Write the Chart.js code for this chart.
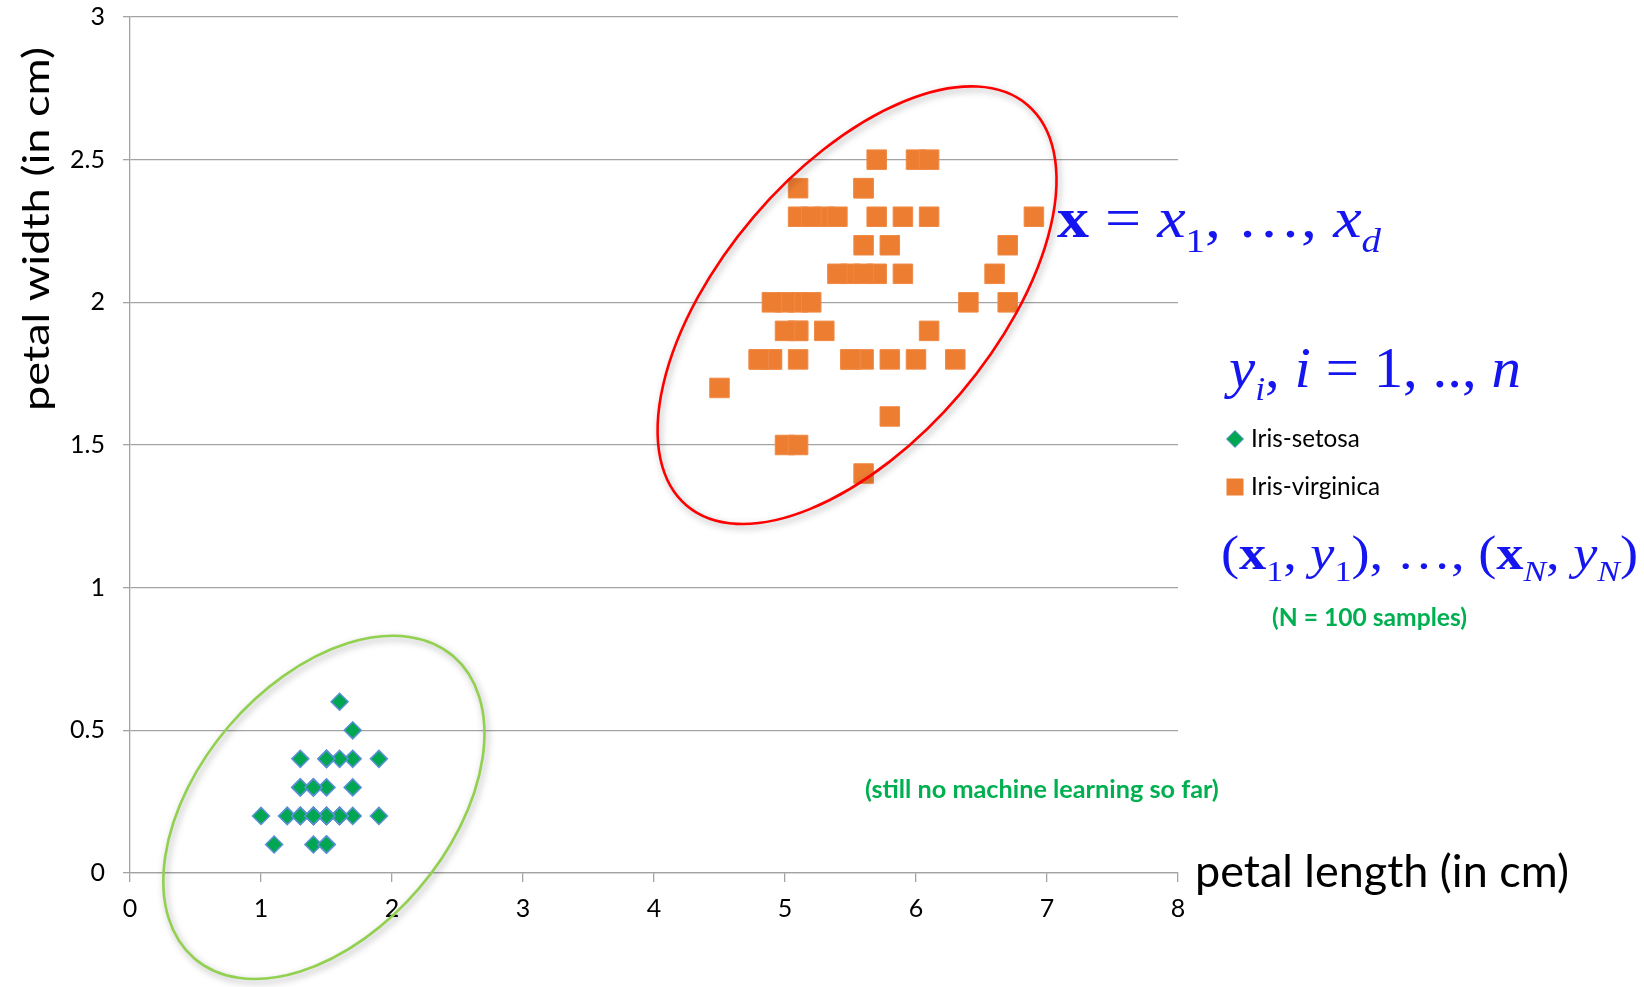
<!DOCTYPE html>
<html>
<head>
<meta charset="utf-8">
<script src="https://cdn.jsdelivr.net/npm/chart.js@4.4.1/dist/chart.umd.min.js"></script>
<style>
  html, body { margin: 0; padding: 0; background: #fff; }
</style>
</head>
<body>
<canvas id="irisChart" width="1644" height="987"></canvas>
<script>
// petal length / petal width (cm)
const setosaLength = [1.4, 1.4, 1.3, 1.5, 1.4, 1.7, 1.4, 1.5, 1.4, 1.5, 1.5, 1.6, 1.4, 1.1, 1.2, 1.5, 1.3, 1.4, 1.7, 1.5,
                      1.7, 1.5, 1.0, 1.7, 1.9, 1.6, 1.6, 1.5, 1.4, 1.6, 1.6, 1.5, 1.5, 1.4, 1.5, 1.2, 1.3, 1.5, 1.3, 1.5,
                      1.3, 1.3, 1.3, 1.6, 1.9, 1.4, 1.6, 1.4, 1.5, 1.4];
const setosaWidth = [0.2, 0.2, 0.2, 0.2, 0.2, 0.4, 0.3, 0.2, 0.2, 0.1, 0.2, 0.2, 0.1, 0.1, 0.2, 0.4, 0.4, 0.3, 0.3, 0.3,
                     0.2, 0.4, 0.2, 0.5, 0.2, 0.2, 0.4, 0.2, 0.2, 0.2, 0.2, 0.4, 0.1, 0.2, 0.1, 0.2, 0.2, 0.1, 0.2, 0.2,
                     0.3, 0.3, 0.2, 0.6, 0.4, 0.3, 0.2, 0.2, 0.2, 0.2];
const virginicaLength = [6.0, 5.1, 5.9, 5.6, 5.8, 6.6, 4.5, 6.3, 5.8, 6.1, 5.1, 5.3, 5.5, 5.0, 5.1, 5.3, 5.5, 6.7, 6.9, 5.0,
                         5.7, 4.9, 6.7, 4.9, 5.7, 6.0, 4.8, 4.9, 5.6, 5.8, 6.1, 6.4, 5.6, 5.1, 5.6, 6.1, 5.6, 5.5, 4.8, 5.4,
                         5.6, 5.1, 5.1, 5.9, 5.7, 5.2, 5.0, 5.2, 5.4, 5.1];
const virginicaWidth = [2.5, 1.9, 2.1, 1.8, 2.2, 2.1, 1.7, 1.8, 1.8, 2.5, 2.0, 1.9, 2.1, 2.0, 2.4, 2.3, 1.8, 2.2, 2.3, 1.5,
                        2.3, 2.0, 2.0, 1.8, 2.1, 1.8, 1.8, 1.8, 2.1, 1.6, 1.9, 2.0, 2.2, 1.5, 1.4, 2.3, 2.4, 1.8, 1.8, 2.1,
                        2.4, 2.3, 1.9, 2.3, 2.5, 2.3, 1.9, 2.0, 2.3, 1.8];
const xTickLabels = ['0', '1', '2', '3', '4', '5', '6', '7', '8'];
const yTickLabels = ['0', '0.5', '1', '1.5', '2', '2.5', '3'];
const seriesNames = ['Iris-setosa', 'Iris-virginica'];

const gridGray = '#A3A3A3';
const noteGreen = '#00B050';
const mathBlue = '#1515F0';
const sans = 'Lato, "Open Sans", sans-serif';
const serif = '"Liberation Serif", "DejaVu Serif", serif';

function toPoints(xs, ys) {
    return xs.map((x, i) => ({ x: x, y: ys[i] }));
}

// font size so that text fills a given width
function fitSize(ctx, text, weight, family, width) {
    ctx.font = weight + ' 100px ' + family;
    return 100 * width / ctx.measureText(text).width;
}

// formula pieces laid out one after the other, squeezed to span x0..x1
function drawRuns(ctx, runs, x0, x1, baseline) {
    let total = 0;
    runs.forEach(r => {
        ctx.font = r.font;
        r.w = ctx.measureText(r.text).width;
        total += r.w;
    });
    ctx.save();
    ctx.translate(x0, baseline);
    ctx.scale((x1 - x0) / total, 1);
    let x = 0;
    runs.forEach(r => {
        ctx.font = r.font;
        ctx.fillText(r.text, x, r.dy || 0);
        x += r.w;
    });
    ctx.restore();
}

// ellipses drawn round the two clusters
const clusterRings = {
    id: 'clusterRings',
    afterDatasetsDraw(chart) {
        const { ctx, scales } = chart;
        const rings = [
            { cx: 5.55, cy: 1.99, rx: 263, ry: 136, angle: -49.6, color: '#FF0000' },
            { cx: 1.48, cy: 0.23, rx: 199, ry: 125, angle: -49.4, color: '#92D050' }
        ];
        rings.forEach(r => {
            ctx.save();
            ctx.shadowColor = 'rgba(0, 0, 0, 0.35)';
            ctx.shadowBlur = 7;
            ctx.shadowOffsetX = 2;
            ctx.shadowOffsetY = 3;
            ctx.beginPath();
            ctx.ellipse(scales.x.getPixelForValue(r.cx), scales.y.getPixelForValue(r.cy),
                        r.rx, r.ry, r.angle * Math.PI / 180, 0, 2 * Math.PI);
            ctx.strokeStyle = r.color;
            ctx.lineWidth = 2.6;
            ctx.stroke();
            ctx.restore();
        });
    }
};

// axis titles, legend and the text notes on the right
const sideNotes = {
    id: 'sideNotes',
    afterDraw(chart) {
        const ctx = chart.ctx;
        const sets = chart.data.datasets;
        ctx.save();
        ctx.fillStyle = '#000';
        ctx.textBaseline = 'alphabetic';

        // x title, to the right of the axis end
        let size = fitSize(ctx, 'petal length (in cm)', '', sans, 374);
        ctx.font = size + 'px ' + sans;
        ctx.textAlign = 'left';
        ctx.fillText('petal length (in cm)', 1195, 887);

        // y title, rotated and stretched along the axis
        ctx.save();
        ctx.font = '36px ' + sans;
        const natural = ctx.measureText('petal width (in cm)').width;
        ctx.translate(49, 229);
        ctx.rotate(-Math.PI / 2);
        ctx.scale(364 / natural, 1);
        ctx.textAlign = 'center';
        ctx.fillText('petal width (in cm)', 0, 0);
        ctx.restore();

        // legend
        size = fitSize(ctx, sets[0].label, '', sans, 109);
        ctx.font = size + 'px ' + sans;
        ctx.textAlign = 'left';
        const legendRows = [447, 495];
        sets.forEach((ds, i) => {
            const cy = legendRows[i] - 8;
            ctx.fillStyle = ds.backgroundColor;
            ctx.strokeStyle = ds.borderColor;
            ctx.lineWidth = 1;
            ctx.beginPath();
            if (ds.pointStyle === 'rectRot') {
                ctx.moveTo(1235, cy - 8.5);
                ctx.lineTo(1243.5, cy);
                ctx.lineTo(1235, cy + 8.5);
                ctx.lineTo(1226.5, cy);
                ctx.closePath();
                ctx.fill();
                ctx.stroke();
            } else {
                ctx.rect(1226.5, cy - 8.5, 17, 17);
                ctx.fill();
            }
            ctx.fillStyle = '#000';
            ctx.fillText(ds.label, 1251, legendRows[i]);
        });

        // green remarks
        ctx.fillStyle = noteGreen;
        ctx.textBaseline = 'middle';
        size = fitSize(ctx, '(N = 100 samples)', 'bold', sans, 195);
        ctx.font = 'bold ' + size + 'px ' + sans;
        ctx.fillText('(N = 100 samples)', 1272, 618);
        size = fitSize(ctx, '(still no machine learning so far)', 'bold', sans, 354);
        ctx.font = 'bold ' + size + 'px ' + sans;
        ctx.fillText('(still no machine learning so far)', 865, 790);

        // formulas
        ctx.fillStyle = mathBlue;
        ctx.textBaseline = 'alphabetic';
        const it = 'italic 56px ' + serif;
        const rm = '56px ' + serif;
        const bf = 'bold 56px ' + serif;
        const sub = '34px ' + serif;
        const subIt = 'italic 34px ' + serif;
        drawRuns(ctx, [
            { text: 'x', font: bf },
            { text: ' = ', font: rm },
            { text: 'x', font: it },
            { text: '1', font: sub, dy: 15 },
            { text: ', \u2026, ', font: rm },
            { text: 'x', font: it },
            { text: 'd', font: subIt, dy: 15 }
        ], 1057, 1381, 237);
        drawRuns(ctx, [
            { text: 'y', font: it },
            { text: 'i', font: subIt, dy: 13 },
            { text: ', ', font: rm },
            { text: 'i', font: it },
            { text: ' = 1, .., ', font: rm },
            { text: 'n', font: it }
        ], 1229, 1521, 387);
        const it3 = 'italic 48px ' + serif;
        const rm3 = '48px ' + serif;
        const bf3 = 'bold 48px ' + serif;
        const sub3 = '30px ' + serif;
        const subIt3 = 'italic 30px ' + serif;
        drawRuns(ctx, [
            { text: '(', font: rm3 },
            { text: 'x', font: bf3 },
            { text: '1', font: sub3, dy: 12 },
            { text: ', ', font: rm3 },
            { text: 'y', font: it3 },
            { text: '1', font: sub3, dy: 12 },
            { text: '), \u2026, (', font: rm3 },
            { text: 'x', font: bf3 },
            { text: 'N', font: subIt3, dy: 12 },
            { text: ', ', font: rm3 },
            { text: 'y', font: it3 },
            { text: 'N', font: subIt3, dy: 12 },
            { text: ')', font: rm3 }
        ], 1221, 1638, 569);
        ctx.restore();
    }
};

new Chart(document.getElementById('irisChart'), {
    type: 'scatter',
    data: {
        datasets: [
            {
                label: seriesNames[0],
                data: toPoints(setosaLength, setosaWidth),
                pointStyle: 'rectRot',
                pointRadius: 8.5,
                backgroundColor: '#00A651',
                borderColor: '#5B8FD6',
                borderWidth: 1.5
            },
            {
                label: seriesNames[1],
                data: toPoints(virginicaLength, virginicaWidth),
                pointStyle: 'rect',
                pointRadius: 13.8,
                backgroundColor: '#ED7D31',
                borderColor: '#F08A45',
                borderWidth: 1
            }
        ]
    },
    options: {
        responsive: false,
        animation: false,
        layout: { autoPadding: false, padding: { top: 17, right: 466, bottom: 0, left: 0 } },
        plugins: {
            legend: { display: false },
            tooltip: { enabled: false }
        },
        scales: {
            x: {
                type: 'linear',
                min: 0,
                max: 8,
                ticks: {
                    stepSize: 1,
                    padding: 12,
                    color: '#000',
                    font: { family: sans, size: 25 },
                    callback: v => xTickLabels[Math.round(v)]
                },
                grid: { drawOnChartArea: false, tickLength: 9, color: gridGray, lineWidth: 1.3 },
                border: { color: gridGray, width: 1.3 },
                afterFit: s => { s.height = 114; }
            },
            y: {
                min: 0,
                max: 3,
                ticks: {
                    stepSize: 0.5,
                    padding: 18,
                    color: '#000',
                    font: { family: sans, size: 25 },
                    callback: v => yTickLabels[Math.round(v * 2)]
                },
                grid: { tickLength: 7, color: gridGray, lineWidth: 1.3 },
                border: { color: gridGray, width: 1.3 },
                afterFit: s => {
                    s.width = 130;
                    s.paddingTop = 0;
                    s.paddingBottom = 0;
                }
            }
        }
    },
    plugins: [clusterRings, sideNotes]
});
</script>
</body>
</html>
